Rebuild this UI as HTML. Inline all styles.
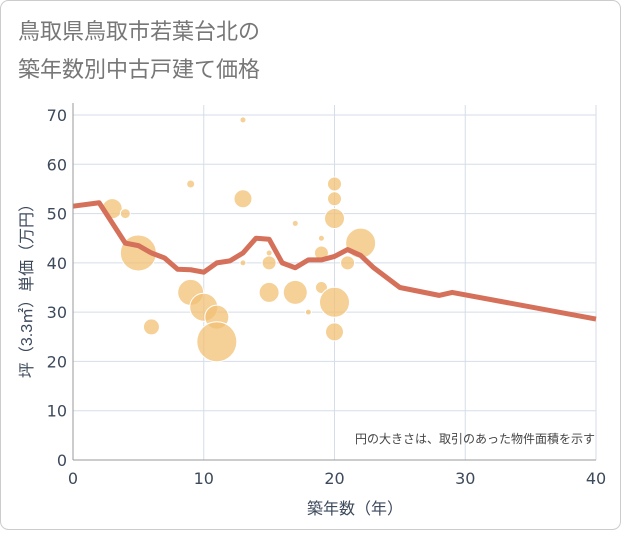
<!DOCTYPE html>
<html><head><meta charset="utf-8"><style>
body{margin:0;background:#fff;}
.wrap{width:621px;height:530px;position:relative;font-family:"Liberation Sans","Noto Sans CJK JP",sans-serif;}
</style></head><body>
<div class="wrap">
<svg id="c" width="621" height="530" xmlns="http://www.w3.org/2000/svg">
<rect x="0.5" y="0.5" width="620" height="529" rx="8" fill="#fff" stroke="#ccc"/>
<text x="18" y="39" font-size="22" fill="#777" font-family="DejaVu Sans,Noto Sans CJK JP,sans-serif">鳥取県鳥取市若葉台北の</text>
<text x="18" y="77" font-size="22" fill="#777" font-family="DejaVu Sans,Noto Sans CJK JP,sans-serif">築年数別中古戸建て価格</text>
<g id="grid"></g><g id="bubbles"></g><g id="line"></g><g id="axes"></g>
<text x="595" y="443" font-size="12" fill="#444" text-anchor="end" font-family="Liberation Sans,Noto Sans CJK JP,sans-serif">円の大きさは、取引のあった物件面積を示す</text>
<text x="355" y="514" font-size="16" fill="#3d4a5c" text-anchor="middle" font-family="Liberation Sans,Noto Sans CJK JP,sans-serif">築年数（年）</text>
<text transform="translate(32,287) rotate(-90)" font-size="16" fill="#3d4a5c" text-anchor="middle" font-family="Liberation Sans,Noto Sans CJK JP,sans-serif">坪（3.3㎡）単価（万円）</text>
</svg>
</div>
<script>
const xTicks=[0,10,20,30,40];
const yTicks=[0,10,20,30,40,50,60,70];
const bubbleX=[3,4,5,6,9,9,10,11,11,13,13,13,15,15,15,17,17,18,19,19,19,20,20,20,20,20,21,22];
const bubbleY=[51,50,42,27,56,34,31,29,24,69,53,40,42,40,34,48,34,30,45,42,35,56,53,49,32,26,40,44];
const bubbleR=[10,5,18,8,4,13,14,12,20,3,9,3,3,7,10,3,12,3,3,7,6,7,7,10,15,9,7,15];
const lineX=[0,2,4,5,6,7,8,9,10,11,12,13,14,15,16,17,18,19,20,21,22,23,25,28,29,40];
const lineY=[51.5,52.2,44,43.5,42,41,38.7,38.6,38.1,40,40.4,42,45,44.8,40,39,40.6,40.6,41.3,42.7,41.5,39,35,33.4,34,28.6];
const X0=73,X1=596,Y0=460,Y1=115;
const sx=v=>X0+(X1-X0)*v/40, sy=v=>Y0-(Y0-Y1)*v/70;
const NS="http://www.w3.org/2000/svg";
function mk(t,p,a){const e=document.createElementNS(NS,t);for(const k in a)e.setAttribute(k,a[k]);p.appendChild(e);return e;}
const g=document.getElementById('grid'),ax=document.getElementById('axes');
yTicks.forEach(v=>{
 const l=mk('line',g,{x1:X0,x2:X1,y1:sy(v),y2:sy(v),stroke:'#d5dde8','stroke-width':1});
 
 
 const t=mk('text',ax,{x:X0-6,y:sy(v)+6,'text-anchor':'end','font-size':16,fill:'#3d4a5c','font-family':'DejaVu Sans,sans-serif'});
 t.textContent=v;
 
 
});
xTicks.forEach(v=>{
 const l=mk('line',g,{x1:sx(v),x2:sx(v),y1:Y1-10,y2:Y0,stroke:'#d5dde8','stroke-width':1});
 
 
 const t=mk('text',ax,{x:sx(v),y:Y0+24,'text-anchor':'middle','font-size':16,fill:'#3d4a5c','font-family':'DejaVu Sans,sans-serif'});
 t.textContent=v;
 
 
});
const a1=mk('line',ax,{x1:X0,x2:X0,y1:Y1-12,y2:Y0,stroke:'#999'});


const a2=mk('line',ax,{x1:X0,x2:X1,y1:Y0,y2:Y0,stroke:'#999'});


const b=document.getElementById('bubbles');
bubbleX.forEach((x,i)=>{
 const c=mk('circle',b,{cx:sx(x),cy:sy(bubbleY[i]),r:bubbleR[i],fill:'#f2c074','fill-opacity':0.75,stroke:'#fff','stroke-width':1});
 
 
});
const p=mk('polyline',document.getElementById('line'),{points:lineX.map((x,i)=>sx(x)+','+sy(lineY[i])).join(' '),fill:'none',stroke:'#d5705a','stroke-width':5,'stroke-linejoin':'round'});


</script>
</body></html>
